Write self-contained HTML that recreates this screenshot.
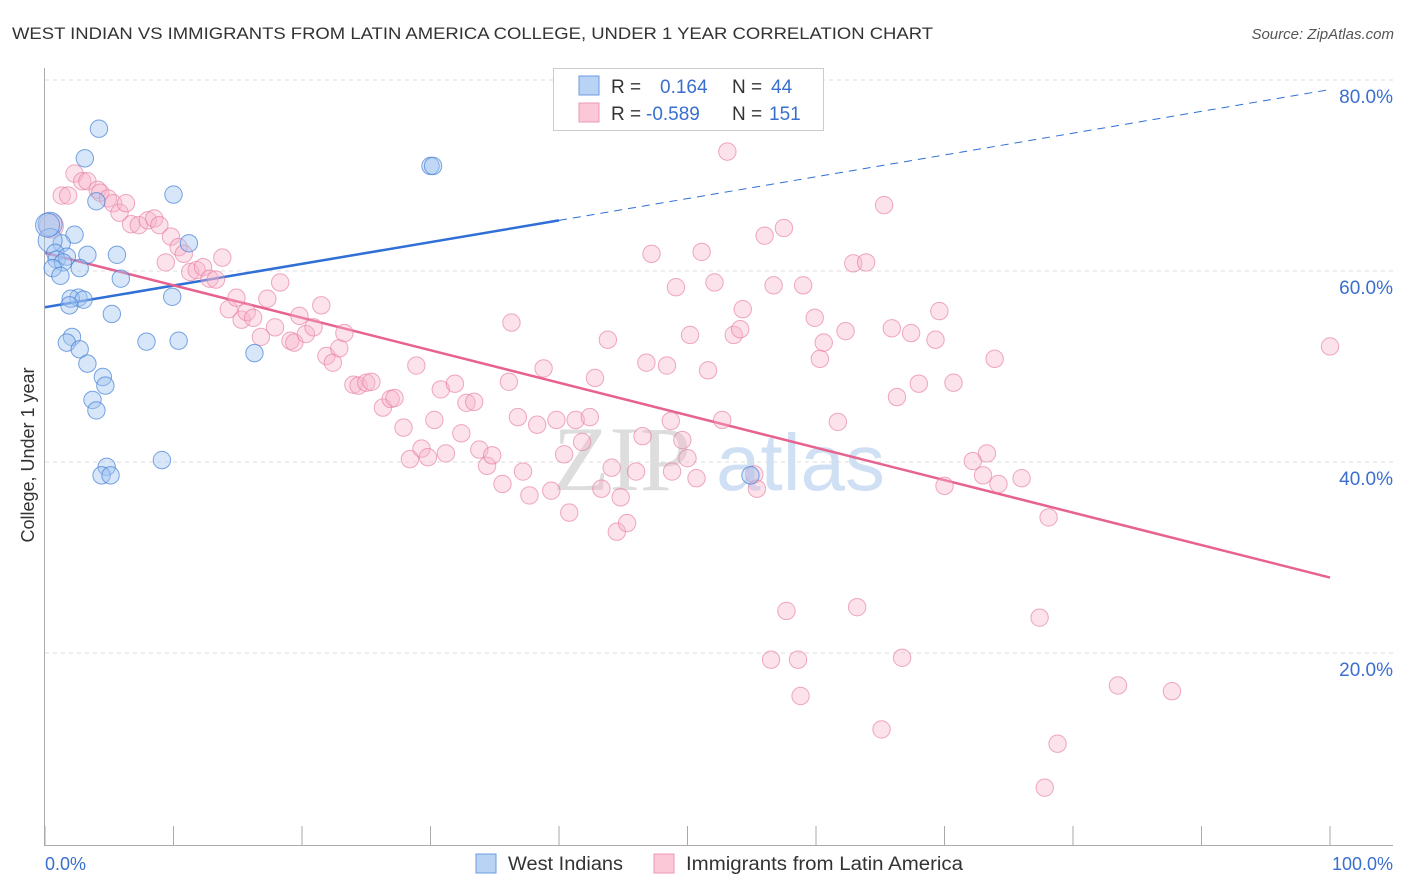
<!DOCTYPE html>
<html><head><meta charset="utf-8"><style>
body{margin:0;background:#fff;font-family:"Liberation Sans",sans-serif;}
svg{display:block}
</style></head><body>
<svg id="chart" width="1406" height="892">
<text x="12" y="39" font-size="17" fill="#333" textLength="921" lengthAdjust="spacingAndGlyphs">WEST INDIAN VS IMMIGRANTS FROM LATIN AMERICA COLLEGE, UNDER 1 YEAR CORRELATION CHART</text>
<text x="1394" y="39" font-size="15" fill="#555" font-style="italic" text-anchor="end">Source: ZipAtlas.com</text>
<g>
<text x="553" y="490" font-size="92" font-family="Liberation Serif,serif" fill="#ddd">ZIP</text>
<text x="716" y="490" font-size="80" fill="#cfe0f5">atlas</text>
</g>
<g id="grid"></g>
<g id="axes"></g>
<g id="lines"></g>
<g id="points"></g>
<text transform="translate(34,455) rotate(-90)" font-size="18" fill="#333" text-anchor="middle">College, Under 1 year</text>
<text x="45" y="870" font-size="18" fill="#3a6fcf">0.0%</text>
<text x="1393" y="870" font-size="18" fill="#3a6fcf" text-anchor="end">100.0%</text>
<g>
<rect x="553.5" y="68.5" width="270" height="62" fill="#fff" stroke="#ccc"/>
<rect x="579" y="76" width="20" height="19" fill="#b9d3f5" stroke="#6b9be0"/>
<rect x="579" y="103" width="20" height="19" fill="#fbc8d8" stroke="#ec98b3"/>
<text x="611" y="93" font-size="19" fill="#333">R = <tspan x="660" fill="#3a6fcf">0.164</tspan><tspan x="732" fill="#333">N = </tspan><tspan x="771" fill="#3a6fcf">44</tspan></text>
<text x="611" y="120" font-size="19" fill="#333">R = <tspan x="646" fill="#3a6fcf">-0.589</tspan><tspan x="732" fill="#333">N = </tspan><tspan x="769" fill="#3a6fcf">151</tspan></text>
</g>
<g>
<rect x="476" y="854" width="20" height="19" fill="#b9d3f5" stroke="#6b9be0"/>
<text x="508" y="870" font-size="19" fill="#333" textLength="115" lengthAdjust="spacingAndGlyphs">West Indians</text>
<rect x="654" y="854" width="20" height="19" fill="#fbc8d8" stroke="#ec98b3"/>
<text x="686" y="870" font-size="19" fill="#333" textLength="277" lengthAdjust="spacingAndGlyphs">Immigrants from Latin America</text>
</g>
</svg>
<script>
const yTicks=[20,40,60,80];
const yTickLabels=["20.0%","40.0%","60.0%","80.0%"];
const xTicks=[0,10,20,30,40,50,60,70,80,90,100];
const blueX=[4.2,3.1,30.0,30.2,10.0,4.0,0.4,2.3,11.2,1.3,0.4,5.6,3.3,0.8,0.9,1.7,1.4,2.7,0.6,1.2,5.9,2.6,2.0,3.0,1.9,9.9,5.2,2.1,1.7,7.9,10.4,2.7,16.3,3.3,4.5,4.7,3.7,4.0,9.1,4.8,4.4,5.1,54.9,0.2];
const blueY=[74.9,71.8,71.0,71.0,68.0,67.3,64.9,63.8,62.9,62.9,63.2,61.7,61.7,61.9,61.2,61.5,60.9,60.3,60.3,59.5,59.2,57.2,57.1,57.0,56.4,57.3,55.5,53.1,52.5,52.6,52.7,51.8,51.4,50.3,48.9,48.0,46.5,45.4,40.2,39.5,38.6,38.6,38.6,64.8];
const pinkX=[0.5,1.3,1.8,2.3,2.9,3.3,4.1,4.3,4.9,5.3,5.8,6.3,6.7,7.3,8.0,8.5,8.9,9.4,9.8,10.4,10.8,11.3,11.8,12.3,12.8,13.3,13.8,14.3,14.9,15.3,15.7,16.2,16.8,17.3,17.9,18.3,19.1,19.4,19.8,20.3,20.9,21.5,21.9,22.4,22.9,23.3,24.0,24.4,25.0,25.4,26.3,26.9,27.2,27.9,28.4,28.9,29.3,29.8,30.3,30.8,31.2,31.9,32.4,32.8,33.4,33.8,34.4,34.8,35.6,36.1,36.3,36.8,37.2,37.7,38.3,38.8,39.4,39.8,40.4,40.8,41.3,41.8,42.4,42.8,43.3,43.8,44.1,44.5,44.8,45.3,46.0,46.5,46.8,47.2,48.4,48.7,48.8,49.1,49.6,50.0,50.2,50.7,51.1,51.6,52.1,52.7,53.1,53.6,54.1,54.3,55.2,55.4,56.0,56.7,57.5,57.7,56.5,58.6,58.8,59.0,59.9,60.3,60.6,61.7,62.3,62.9,63.2,63.9,65.1,65.3,65.9,66.3,66.7,67.4,68.0,69.3,69.6,70.0,70.7,72.2,73.0,73.3,73.9,74.2,76.0,77.4,77.8,78.1,78.8,83.5,87.7,100.0];
const pinkY=[64.7,67.9,67.9,70.2,69.4,69.4,68.5,68.2,67.6,67.1,66.1,67.1,64.9,64.8,65.3,65.5,64.8,60.9,63.6,62.5,61.8,59.9,60.1,60.4,59.2,59.1,61.4,56.0,57.2,54.9,55.7,55.1,53.1,57.1,54.1,58.8,52.7,52.5,55.3,53.4,54.1,56.4,51.1,50.4,51.9,53.5,48.1,48.0,48.3,48.4,45.7,46.6,46.7,43.6,40.3,50.1,41.4,40.5,44.4,47.6,40.9,48.2,43.0,46.2,46.3,41.3,39.6,40.7,37.7,48.4,54.6,44.7,39.0,36.5,43.9,49.8,37.0,44.4,40.8,34.7,44.4,42.1,44.7,48.8,37.2,52.8,39.4,32.7,36.3,33.6,39.0,42.7,50.4,61.8,50.1,44.3,39.0,58.3,42.3,40.4,53.3,38.3,62.0,49.6,58.8,44.4,72.5,53.3,53.9,56.0,38.7,37.2,63.7,58.5,64.5,24.4,19.3,19.3,15.5,58.5,55.1,50.8,52.5,44.2,53.7,60.8,24.8,60.9,12.0,66.9,54.0,46.8,19.5,53.5,48.2,52.8,55.8,37.5,48.3,40.1,38.6,40.9,50.8,37.7,38.3,23.7,5.9,34.2,10.5,16.6,16.0,52.1];
const blueTrendX=[0,40,100];
const blueTrendY=[56.2,65.3,79.0];
const pinkTrendX=[0,100];
const pinkTrendY=[61.9,27.9];

const NS="http://www.w3.org/2000/svg";
const X0=45,X1=1330,Y0=844,YPER=9.55;
const sx=v=>X0+(X1-X0)*v/100;
const sy=v=>Y0-YPER*v;
function mk(tag,attrs,parent){const e=document.createElementNS(NS,tag);for(const k in attrs)e.setAttribute(k,attrs[k]);parent.appendChild(e);return e;}
const grid=document.getElementById('grid'),axes=document.getElementById('axes'),lines=document.getElementById('lines'),pts=document.getElementById('points');
yTicks.forEach((t,i)=>{
  const l=mk('line',{x1:45,x2:1393,y1:sy(t),y2:sy(t),stroke:'#ddd','stroke-dasharray':'4,4'},grid);
  
  
  const tx=mk('text',{x:1393,y:sy(t)+23,'font-size':19,fill:'#3a6fcf','text-anchor':'end'},grid);
  tx.textContent=yTickLabels[i];
  
  
});
const ya=mk('line',{x1:44.5,x2:44.5,y1:68,y2:846,stroke:'#aaa'},axes);


const xa=mk('line',{x1:44,x2:1393,y1:845.5,y2:845.5,stroke:'#aaa'},axes);


xTicks.forEach(t=>{
  const k=mk('line',{x1:sx(t),x2:sx(t),y1:826,y2:846,stroke:'#aaa'},axes);
  
  
});
function trend(xs,ys,color,name,dashFrom){
  for(let i=0;i<xs.length-1;i++){
    const a={x1:sx(xs[i]),y1:sy(ys[i]),x2:sx(xs[i+1]),y2:sy(ys[i+1]),stroke:color,'stroke-width':(dashFrom!=null&&i>=dashFrom)?1:2.5};
    if(dashFrom!=null&&i>=dashFrom)a['stroke-dasharray']='8,6';
    const l=mk('line',a,lines);
    
    
  }
}
function scatter(xs,ys,fill,stroke,name){
  xs.forEach((x,i)=>{
    const big=x<1.0&&ys[i]>63;
    const c=mk('circle',{cx:sx(x),cy:sy(ys[i]),r:big?12:8.7,fill:fill,stroke:stroke,'stroke-width':1},pts);
    
    
  });
}
scatter(pinkX,pinkY,'rgba(248,180,202,0.38)','rgba(230,125,160,0.65)','immigrants-point');
scatter(blueX,blueY,'rgba(160,196,240,0.42)','rgba(70,130,215,0.72)','west-indian-point');
trend(blueTrendX,blueTrendY,'#2f6fd6','west-indian-trendline',1);
trend(pinkTrendX,pinkTrendY,'#e8628f','immigrants-trendline',null);
</script>
</body></html>
